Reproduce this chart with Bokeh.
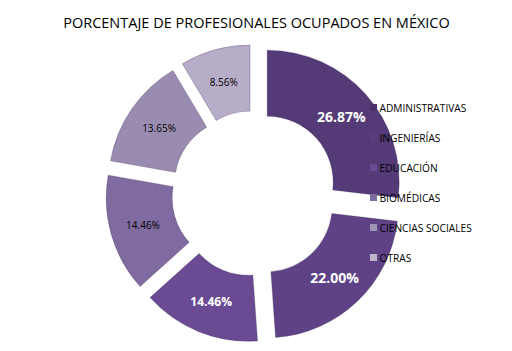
import math
from bokeh.plotting import figure
from bokeh.models import Range1d, ColumnDataSource
from bokeh.core.properties import value
from bokeh.embed import file_html
from bokeh.resources import INLINE

categories = ["ADMINISTRATIVAS", "INGENIERÍAS", "EDUCACIÓN", "BIOMÉDICAS", "CIENCIAS SOCIALES", "OTRAS"]
percentages = [26.87, 22.00, 14.46, 14.46, 13.65, 8.56]
labels = ["26.87%", "22.00%", "14.46%", "14.46%", "13.65%", "8.56%"]
colors = ["#543a76", "#5e4285", "#6a4b93", "#7f6b9f", "#998cb0", "#b7adc8"]
legend_colors = ["#4a3168", "#5a3f80", "#6a4b93", "#7e6aa0", "#a195b5", "#bdb5c9"]
label_colors = ["white", "white", "white", "black", "black", "black"]
label_bold = ["bold", "bold", "bold", "normal", "normal", "normal"]
label_sizes = ["14px", "14px", "12px", "10px", "10px", "10px"]
title = "PORCENTAJE DE PROFESIONALES OCUPADOS EN MÉXICO"

W, H = 512, 351
cx, cy = 254, H - 193
r_in, r_out, explode = 66, 132, 17

p = figure(width=W, height=H, output_backend="svg", toolbar_location=None,
           x_range=Range1d(0, W), y_range=Range1d(0, H), min_border=0)
p.axis.visible = False
p.grid.visible = False
p.outline_line_color = None

total = sum(percentages)
start = 90.0
xs, ys, sa, ea, lx, ly = [], [], [], [], [], []
for v in percentages:
    span = 360.0 * v / total
    end = start - span
    mid = math.radians((start + end) / 2)
    xs.append(cx + explode * math.cos(mid))
    ys.append(cy + explode * math.sin(mid))
    sa.append(math.radians(start))
    ea.append(math.radians(end))
    rm = explode + (r_in + r_out) / 2
    lx.append(cx + rm * math.cos(mid))
    ly.append(cy + rm * math.sin(mid))
    start = end

src = ColumnDataSource(dict(x=xs, y=ys, sa=sa, ea=ea, color=colors))
p.annular_wedge(x="x", y="y", inner_radius=r_in, outer_radius=r_out,
                start_angle="sa", end_angle="ea", direction="clock",
                fill_color="color", line_color="#3c2858", line_width=0.6, line_alpha=0.5,
                source=src)

lsrc = ColumnDataSource(dict(x=lx, y=ly, t=labels, c=label_colors, b=label_bold, s=label_sizes))
p.text(x="x", y="y", text="t", text_color="c", text_font_style="b", text_font_size="s",
       text_font=value("Open Sans"), text_align="center", text_baseline="middle", source=lsrc)

p.text(x=[W / 2], y=[H - 22], text=[title], text_font=value("Open Sans"),
       text_font_size="14.5px", text_align="center", text_baseline="middle", text_color="#000000")

leg_y = [H - (107 + 30 * i) for i in range(len(categories))]
p.scatter(x=[373] * len(categories), y=leg_y, marker="square", size=7,
          fill_color=legend_colors, line_color=None)
p.text(x=[379] * len(categories), y=leg_y, text=categories, text_font=value("Open Sans"),
       text_font_size="10.2px", text_baseline="middle", text_color="#000000")

open("out.html", "w").write(file_html(p, INLINE))
